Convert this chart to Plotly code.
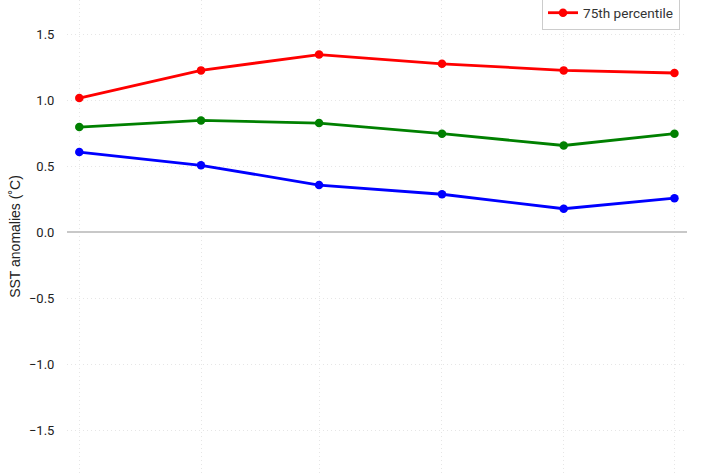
import plotly.graph_objects as go

# Data
x_vals = [0, 1, 1.97, 2.98, 3.98, 4.89]
p25 = [0.61, 0.51, 0.36, 0.29, 0.18, 0.26]
p50 = [0.80, 0.85, 0.83, 0.75, 0.66, 0.75]
p75 = [1.02, 1.23, 1.35, 1.28, 1.23, 1.21]
series_names = ["25th percentile", "50th percentile", "75th percentile"]
series_colors = ["blue", "green", "red"]
y_ticks = [-1.5, -1.0, -0.5, 0.0, 0.5, 1.0, 1.5]
y_tick_text = ["\u22121.5", "\u22121.0", "\u22120.5", "0.0", "0.5", "1.0", "1.5"]

fig = go.Figure()
for name, vals, col in zip(series_names, [p25, p50, p75], series_colors):
    fig.add_trace(go.Scatter(
        x=x_vals, y=vals, name=name, mode="lines+markers",
        line=dict(color=col, width=2.8),
        marker=dict(color=col, size=8.5),
    ))

fig.update_layout(
    width=710, height=473,
    margin=dict(l=67, r=23, t=0, b=0, autoexpand=False),
    paper_bgcolor="white", plot_bgcolor="white",
    font=dict(family="Roboto", size=13, color="#222"),
    legend=dict(
        x=0.9887, xanchor="right", y=1 - 30 / 473, yanchor="bottom",
        bgcolor="white", bordercolor="#cccccc", borderwidth=1,
        font=dict(size=13.6, color="#333"),
    ),
    showlegend=True,
)
fig.update_xaxes(
    range=[-0.101, 4.993], tickvals=x_vals, showticklabels=False,
    showgrid=True, gridcolor="#e6e6e6", griddash="1px,3px", gridwidth=1,
    zeroline=False, showline=False,
)
fig.update_yaxes(
    range=[-1.825, 1.764], tickvals=y_ticks, ticktext=y_tick_text,
    showgrid=True, gridcolor="#e6e6e6", griddash="1px,3px", gridwidth=1,
    zeroline=True, zerolinecolor="#c8c8c8", zerolinewidth=2,
    ticks="outside", ticklen=9, tickcolor="rgba(0,0,0,0)",
    title=dict(text="SST anomalies (\u02daC)", standoff=5,
               font=dict(family="Liberation Sans, Arial", size=14, color="#222")),
    showline=False,
)

fig.write_html("out.html", config={"displayModeBar": False},
               post_script="document.body.style.margin='0';")
